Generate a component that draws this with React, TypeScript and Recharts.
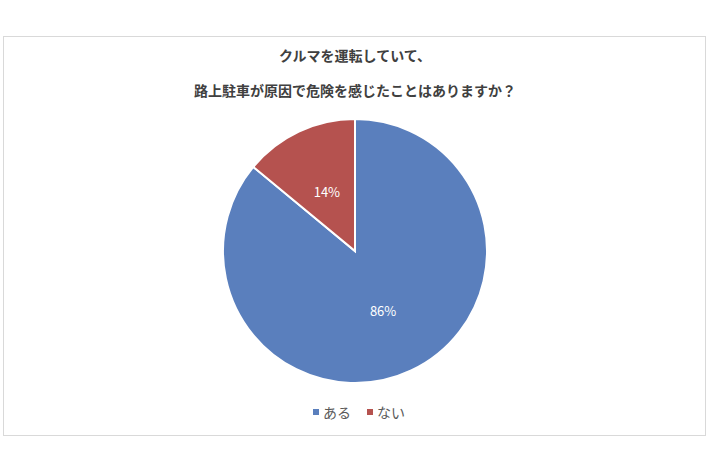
import React from 'react';
import { PieChart, Pie, Cell } from 'recharts';

const categories = ['ある', 'ない'];
const shares = [86, 14];
const colors = ['#5a7fbd', '#b5524f'];
const titleLines = ['クルマを運転していて、', '路上駐車が原因で危険を感じたことはありますか？'];

const data = categories.map((name, i) => ({ name, value: shares[i] }));

const FONT = '"Noto Sans CJK JP", "Noto Sans", sans-serif';
const RAD = Math.PI / 180;

const renderLabel = (props: any) => {
  const { cx, cy, midAngle, outerRadius, value } = props;
  const r = outerRadius * 0.5;
  const x = cx + r * Math.cos(-midAngle * RAD);
  const y = cy + r * Math.sin(-midAngle * RAD);
  return (
    <text
      x={x}
      y={y}
      fill="#ffffff"
      fontSize={13}
      fontFamily={FONT}
      textAnchor="middle"
      dominantBaseline="central"
    >
      {`${value}%`}
    </text>
  );
};

export default function App() {
  return (
    <div
      style={{
        position: 'absolute',
        left: 0,
        top: 0,
        width: 710,
        height: 474,
        background: '#ffffff',
        fontFamily: FONT,
      }}
    >
      {/* chart frame */}
      <div
        style={{
          position: 'absolute',
          left: 3,
          top: 36,
          width: 703,
          height: 400,
          border: '1px solid #d9d9d9',
          boxSizing: 'border-box',
        }}
      />
      {titleLines.map((line, i) => (
        <div
          key={i}
          style={{
            position: 'absolute',
            left: 0,
            width: 710,
            top: i === 0 ? 45 : 80,
            textAlign: 'center',
            fontSize: 14,
            fontWeight: 700,
            color: '#404040',
            lineHeight: '20px',
          }}
        >
          {line}
        </div>
      ))}
      <div style={{ position: 'absolute', left: 0, top: 0 }}>
        <PieChart width={710} height={474} margin={{ top: 0, right: 0, bottom: 0, left: 0 }}>
          <Pie
            data={data}
            dataKey="value"
            nameKey="name"
            cx={355}
            cy={251}
            outerRadius={132}
            startAngle={90}
            endAngle={-270}
            stroke="#ffffff"
            strokeWidth={2}
            label={renderLabel}
            labelLine={false}
            isAnimationActive={false}
          >
            {data.map((d, i) => (
              <Cell key={d.name} fill={colors[i]} />
            ))}
          </Pie>
        </PieChart>
      </div>
      {/* legend */}
      <div
        style={{
          position: 'absolute',
          left: 4,
          width: 710,
          top: 402,
          display: 'flex',
          justifyContent: 'center',
          fontSize: 14,
          lineHeight: '20px',
          color: '#595959',
        }}
      >
        {data.map((d, i) => (
          <div key={d.name} style={{ display: 'flex', alignItems: 'center', margin: '0 8px' }}>
            <span
              style={{
                display: 'inline-block',
                width: 6,
                height: 6,
                background: colors[i],
                marginRight: 4,
              }}
            />
            <span>{d.name}</span>
          </div>
        ))}
      </div>
    </div>
  );
}
